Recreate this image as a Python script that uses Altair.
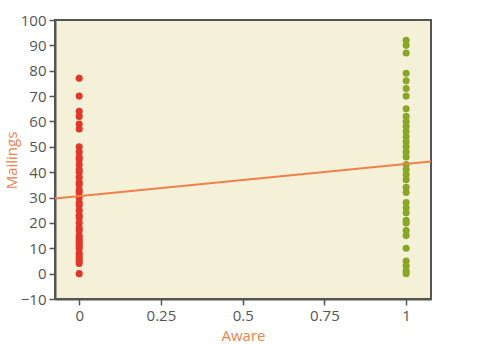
import altair as alt
import pandas as pd

# Mailings for Aware = 0 (red) and Aware = 1 (green)
mail_unaware = [77, 70, 64, 62, 59, 57,
                50, 48, 46, 45, 43, 41, 40, 38, 36, 35,
                33, 32, 30, 28, 27, 25, 23, 22, 20, 18,
                17, 15, 14, 13, 12, 11, 10, 8, 7, 6, 5, 4, 0]
mail_aware = [92, 90, 87, 79, 76, 73, 70,
              65, 62, 60, 58, 56, 54, 52, 50, 48, 46,
              43, 41, 39, 37, 34, 32, 28, 26, 24, 21, 20, 17, 15,
              10, 5, 3, 1, 0]
x_ticks = [0, 0.25, 0.5, 0.75, 1]
y_ticks = list(range(-10, 101, 10))

df = pd.DataFrame({
    "Aware": [0] * len(mail_unaware) + [1] * len(mail_aware),
    "Mailings": mail_unaware + mail_aware,
})

xdom = [-0.074, 1.076]
ydom = [-10, 100]

x = alt.X("Aware:Q", scale=alt.Scale(domain=xdom, nice=False, zero=False),
          axis=alt.Axis(values=x_ticks, title="Aware",
                        labelExpr="datum.value == 0 ? '0' : datum.value == 1 ? '1' : format(datum.value, '.2~f')"))
y = alt.Y("Mailings:Q", scale=alt.Scale(domain=ydom, nice=False),
          axis=alt.Axis(values=y_ticks, title="Mailings", titleX=-39, titleY=140,
                        titleAngle=-90, titleAlign="center", titleBaseline="alphabetic"))

points = alt.Chart(df).mark_circle(size=50, opacity=1).encode(
    x=x, y=y,
    color=alt.Color("Aware:N", scale=alt.Scale(domain=[0, 1], range=["#e2362a", "#8aa627"]), legend=None),
)

line = alt.Chart(df).transform_regression(
    "Aware", "Mailings", extent=xdom
).mark_line(color="#f0804a", strokeWidth=2, clip=True).encode(x=x, y=y)

chart = (points + line).properties(
    width=376, height=279,
    autosize=alt.AutoSizeParams(type="none"),
    padding={"left": 55, "top": 20, "right": 48, "bottom": 45},
).configure_view(
    fill="#f5f1d8", stroke="#555555", strokeWidth=2
).configure_axis(
    grid=False,
    domainColor="#555555", domainWidth=2,
    tickColor="#555555", tickWidth=1.5, tickSize=6,
    labelFont="Open Sans", labelFontSize=15, labelColor="#555555", labelPadding=3,
    titleFont="Open Sans", titleFontSize=15, titleColor="#f0804a", titleFontWeight="normal",
).configure_axisX(titlePadding=5)

chart.save("out.html", embed_options={"renderer": "svg", "actions": False})
